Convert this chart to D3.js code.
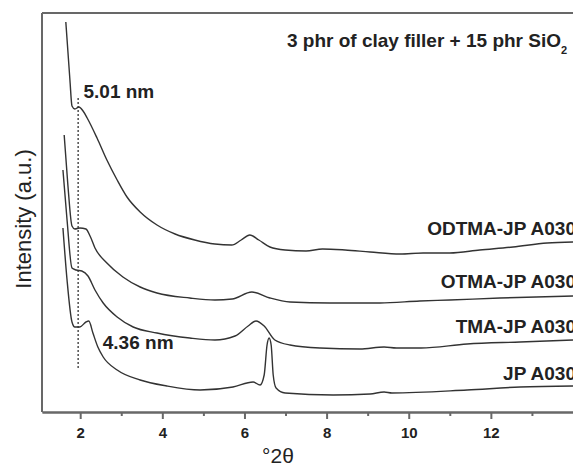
<!DOCTYPE html>
<html>
<head>
<meta charset="utf-8">
<script src="https://cdn.jsdelivr.net/npm/d3@7/dist/d3.min.js"></script>
<style>
    body { margin: 0; background: #fff; }
    svg { display: block; font-family: "Liberation Sans", Arial, sans-serif; }
</style>
</head>
<body>
<div class="xrd-chart"></div>
<script>
// 每条曲线：[°2θ, 强度 a.u.]
var odtma = [[1.65,390],[1.75,332],[1.80,306],[1.87,303],[1.97,305],[2.07,301],[2.17,294],[2.41,274],
    [2.65,252],[2.90,232],[3.14,215],[3.46,200],[3.87,187],[4.31,178],[4.79,172],[5.28,168],
    [5.69,167],[5.92,172],[6.13,177],[6.35,172],[6.62,165],[6.99,162],[7.50,161],[7.90,163],[8.45,162],
    [9.06,160],[9.79,158],[10.35,159],[11.0,159],[11.73,162],[12.54,165],[13.37,169],[14.0,170]];
var otma = [[1.61,277],[1.70,227],[1.80,186],[1.87,183],[1.99,184],[2.14,183],[2.24,176],[2.36,164],
    [2.65,149],[3.04,135],[3.46,125],[3.87,119],[4.67,114],[5.28,112],[5.70,113],[6.18,120],[6.62,114],
    [7.11,110],[8.08,109],[9.30,109],[10.27,111],[11.0,112],[12.22,114],[14.0,116]];
var tma = [[1.58,242],[1.68,192],[1.80,144],[1.90,142],[2.04,141],[2.19,136],[2.36,122],[2.56,109],
    [2.90,95],[3.29,85],[3.87,79],[4.67,74],[5.28,72],[5.77,76],[6.09,86],[6.28,91],[6.48,86],[6.74,72],
    [7.11,67],[7.84,64],[8.81,63],[9.40,65],[9.70,64],[10.30,64],[11.42,68],[12.71,70],[14.0,72]];
var jp = [[1.58,184],[1.68,132],[1.80,90],[1.87,85],[1.99,85],[2.14,90],[2.21,91],[2.31,79],[2.43,65],
    [2.56,55],[2.90,42],[3.46,32],[4.11,26],[4.92,22],[5.72,25],[6.21,30],[6.38,27],[6.48,37],[6.55,67],
    [6.60,74],[6.65,67],[6.70,37],[6.77,24],[6.99,19],[8.16,17],[9.06,18],[9.40,20],[9.59,19],
    [11.42,22],[12.71,25],[14.0,26]];

var seriesNames = ["ODTMA-JP A030", "OTMA-JP A030", "TMA-JP A030", "JP A030"];
var labelLevels = [177, 124, 79, 32];
var majorTicks = [2, 4, 6, 8, 10, 12];
var minorTicks = [3, 5, 7, 9, 11, 13];
var spacingTexts = ["5.01 nm", "4.36 nm"];
var spacingAt = [[2.08, 314], [2.55, 63]];
var dottedLine = [[1.95, 314], [1.95, 42]];

document.addEventListener("DOMContentLoaded", function(){
    var width = 573, height = 466;
    var left = 42, top = 13, bottom = 412, right = 573;
    var lineColor = '#333', frameColor = '#686868';

    var svg = d3.select(".xrd-chart").append("svg")
        .attr('width', width).attr('height', height);

    var x = d3.scaleLinear().domain([1.07, 14]).range([left, right]);
    var y = d3.scaleLinear().domain([0, 399]).range([bottom, top]);

    //外框线（上、左）
    svg.append('line')
        .attr('x1', left).attr('y1', top).attr('x2', right).attr('y2', top)
        .attr('stroke', frameColor).attr('stroke-width', 2);
    svg.append('line')
        .attr('x1', left).attr('y1', top).attr('x2', left).attr('y2', bottom)
        .attr('stroke', frameColor).attr('stroke-width', 2);

    //横轴 次刻度
    svg.append('g')
        .attr('transform', 'translate(0,' + bottom + ')')
        .call(d3.axisBottom(x).tickValues(minorTicks).tickSize(4).tickSizeOuter(0).tickFormat(''));
    //横轴 主刻度
    var axis = svg.append('g')
        .attr('transform', 'translate(0,' + bottom + ')')
        .call(d3.axisBottom(x).tickValues(majorTicks).tickSize(7).tickSizeOuter(0).tickPadding(8).tickFormat(d3.format('d')));
    svg.selectAll('.domain, .tick line')
        .attr('stroke', frameColor).attr('stroke-width', 2);
    axis.selectAll('text')
        .style('font-size', '15px').style('font-weight', 'bold')
        .style('font-family', '"Liberation Sans", Arial, sans-serif')
        .attr('fill', '#222');

    //曲线
    var line = d3.line()
        .x(function(d){ return x(d[0]); })
        .y(function(d){ return y(d[1]); })
        .curve(d3.curveMonotoneX);
    [odtma, otma, tma, jp].forEach(function(s){
        svg.append('path')
            .attr('d', line(s))
            .attr('fill', 'none')
            .attr('stroke', lineColor)
            .attr('stroke-width', 1.4);
    });

    //虚线
    svg.append('path')
        .attr('d', d3.line().x(function(d){ return x(d[0]); }).y(function(d){ return y(d[1]); })(dottedLine))
        .attr('stroke', lineColor)
        .attr('stroke-width', 1.3)
        .attr('stroke-dasharray', '2,2');

    //曲线名称
    seriesNames.forEach(function(name, i){
        svg.append('text')
            .attr('x', 576)
            .attr('y', y(labelLevels[i]))
            .attr('text-anchor', 'end')
            .style('font-size', '19px').style('font-weight', 'bold')
            .attr('fill', '#222')
            .text(name);
    });

    //层间距标注
    spacingTexts.forEach(function(t, i){
        svg.append('text')
            .attr('x', x(spacingAt[i][0]))
            .attr('y', y(spacingAt[i][1]))
            .style('font-size', '19px').style('font-weight', 'bold')
            .attr('fill', '#222')
            .text(t);
    });

    //标题
    var title = svg.append('text')
        .attr('x', 287).attr('y', 47)
        .style('font-size', '19px').style('font-weight', 'bold')
        .attr('fill', '#222')
        .text('3 phr of clay filler + 15 phr SiO');
    title.append('tspan')
        .attr('dy', 7).style('font-size', '11px')
        .text('2');

    //坐标轴标题
    svg.append('text')
        .attr('x', 278).attr('y', 463)
        .attr('text-anchor', 'middle')
        .style('font-size', '21px')
        .attr('fill', '#222')
        .text('°2θ');
    svg.append('text')
        .attr('transform', 'translate(31,219) rotate(-90)')
        .attr('text-anchor', 'middle')
        .style('font-size', '22px')
        .attr('fill', '#222')
        .text('Intensity (a.u.)');
});
</script>
</body>
</html>
